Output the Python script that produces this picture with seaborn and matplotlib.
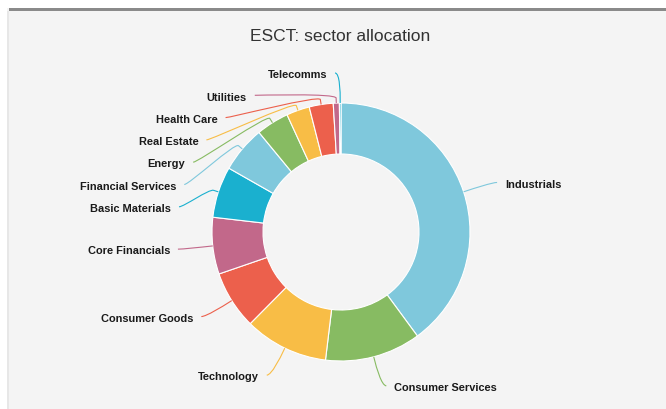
import numpy as np
import matplotlib
matplotlib.use("Agg")
import matplotlib.pyplot as plt
import seaborn as sns
from matplotlib.path import Path
from matplotlib.patches import PathPatch, Rectangle

# ---------------- data ----------------
sectors = ["Industrials", "Consumer Services", "Technology", "Consumer Goods",
           "Core Financials", "Basic Materials", "Financial Services", "Energy",
           "Real Estate", "Health Care", "Utilities", "Telecomms"]
weights = [39.9, 12.0, 10.5, 7.3, 7.1, 6.4, 5.8, 4.1, 2.9, 3.0, 0.76, 0.2]
title_text = "ESCT: sector allocation"
palette_hex = ["#7fc8dc", "#87bb62", "#f8bd46", "#ec604c", "#c2688a", "#1ab0cf"]

# ---------------- style / layout ----------------
W, H = 666, 409
sns.set_theme(style="white")
plt.rcParams['font.family'] = ['Liberation Sans', 'DejaVu Sans']

fig = plt.figure(figsize=(W / 100, H / 100), dpi=100)
fig.patch.set_facecolor('white')
ax = fig.add_axes([0, 0, 1, 1])


def Y(py):
    return H - py


# chart panel background
ax.add_patch(Rectangle((7, 0), W - 7, Y(8), facecolor='#f4f4f4', edgecolor='none', zorder=0))
ax.add_patch(Rectangle((7, 0), 2, Y(11), facecolor='#e7e7e7', edgecolor='none', zorder=0))
ax.add_patch(Rectangle((9, Y(11)), W - 9, 3, facecolor='#8a8a8a', edgecolor='none', zorder=1))

colors = sns.color_palette(palette_hex, n_colors=len(sectors))

cx, cy, R, Rin = 341, Y(232), 129, 78
D = 30  # label distance
wedges, _ = ax.pie(weights, colors=colors, startangle=90, counterclock=False,
                   center=(cx, cy), radius=R,
                   wedgeprops=dict(width=R - Rin, edgecolor='white', linewidth=0.8))

ax.set_xlim(0, W)
ax.set_ylim(0, H)
ax.set_aspect('auto')
ax.axis('off')

# ---------------- data labels (Highcharts-like placement) ----------------
info = []
for i, w in enumerate(wedges):
    a = np.deg2rad((w.theta1 + w.theta2) / 2)
    c, s = np.cos(a), np.sin(a)
    info.append(dict(i=i, c=c, s=s, left=c < 0, ny=cy + (R + D) * s))

spacing = 22.3
top = cy + R + D
for side in (True, False):
    items = sorted([d for d in info if d['left'] == side], key=lambda d: -d['ny'])
    prev = None
    for d in items:
        y = min(d['ny'], top)
        if prev is not None:
            y = min(y, prev - spacing)
        d['y'] = y
        prev = y

for d in info:
    i = d['i']
    sgn = -1 if d['left'] else 1
    y = d['y']
    dy = np.clip(y - cy, -(R + D), R + D)
    x = cx + sgn * np.sqrt((R + D) ** 2 - dy ** 2)
    p_edge = (cx + R * d['c'], cy + R * d['s'])
    p5 = (cx + (R + 5) * d['c'], cy + (R + 5) * d['s'])
    p10 = (cx + (R + 10) * d['c'], cy + (R + 10) * d['s'])
    verts = [(x + sgn * 5, y), (x, y), p10, p5, p_edge]
    codes = [Path.MOVETO, Path.CURVE4, Path.CURVE4, Path.CURVE4, Path.LINETO]
    ax.add_patch(PathPatch(Path(verts, codes), facecolor='none', edgecolor=colors[i],
                           linewidth=0.8, zorder=3))
    ax.text(x + sgn * 13, y - 1.2, sectors[i], ha='left' if sgn > 0 else 'right',
            va='center_baseline', fontsize=7.9, fontweight='bold', color='#1a1a1a', zorder=4)

ax.text(W / 2 + 7, Y(35), title_text, ha='center', va='center_baseline',
        fontsize=12.5, color='#333333')

fig.savefig('out.png', dpi=100, facecolor=fig.get_facecolor())
